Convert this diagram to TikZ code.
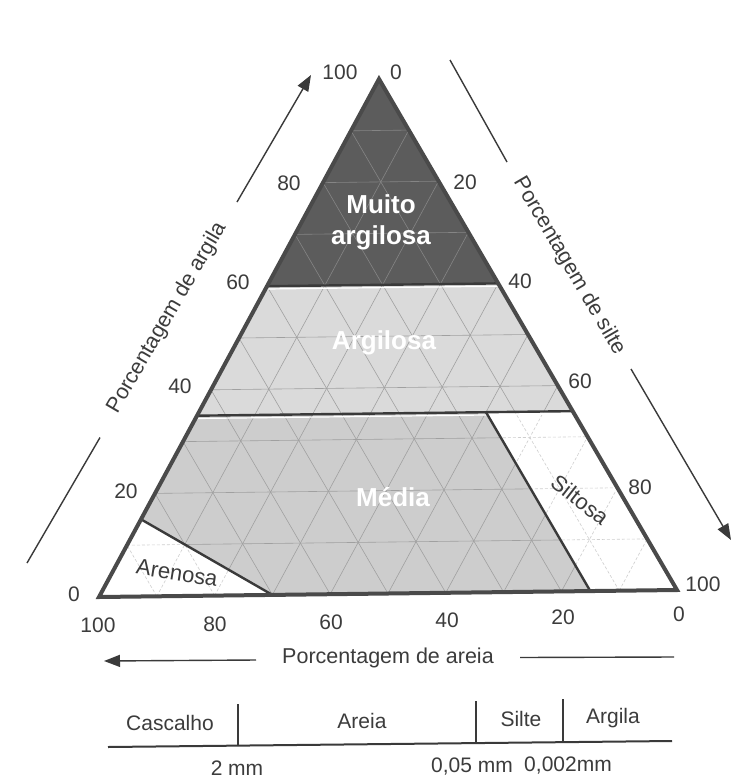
\documentclass[tikz,border=0pt]{standalone}
\usepackage{fontspec}
\setmainfont{Liberation Sans}
\usetikzlibrary{arrows.meta}
\definecolor{txt}{HTML}{3C3C3C}
\definecolor{ink}{HTML}{3A3A3A}
\definecolor{outl}{HTML}{4A4A4A}
\definecolor{darkz}{HTML}{5C5C5C}
\definecolor{argz}{HTML}{DADADA}
\definecolor{medz}{HTML}{CDCDCD}
\definecolor{gridd}{HTML}{858585}
\definecolor{gridl}{HTML}{A0A0A0}
\definecolor{gridw}{HTML}{CFCFCF}
\begin{document}
\begin{tikzpicture}[x=1pt,y=-1pt,
  num/.style={font=\fontsize{21}{24}\selectfont, text=txt, inner sep=0pt},
  axtitle/.style={font=\fontsize{21.5}{24}\selectfont, text=txt, inner sep=0pt},
  zone/.style={font=\fontsize{26}{31}\selectfont\bfseries, text=white, inner sep=0pt, align=center},
  zonew/.style={font=\fontsize{22}{24}\selectfont, text=txt, inner sep=0pt},
  axarrow/.style={draw=ink, line width=1.4pt, -{Triangle[length=16pt,width=12pt]}},
  axline/.style={draw=ink, line width=1.4pt},
  border/.style={draw=ink, line width=2.4pt},
  outer/.style={draw=outl, line width=4pt, line join=miter},
  gridline/.style={line width=0.6pt},
  sizeline/.style={draw=ink, line width=2pt}
]
\useasboundingbox (0,0) rectangle (742,782);
\fill[white] (0,0) rectangle (742,782);

% triangle vertices
\coordinate (A) at (379,79);
\coordinate (L) at (99,597);
\coordinate (R) at (677,590);

% class boundaries
\coordinate (m1) at (barycentric cs:A=0.6,L=0.4);
\coordinate (m2) at (barycentric cs:A=0.6,R=0.4);
\coordinate (g1) at (barycentric cs:A=0.35,L=0.65);
\coordinate (g2) at (barycentric cs:A=0.35,R=0.65);
\coordinate (s1) at (barycentric cs:A=0.35,R=0.5,L=0.15);
\coordinate (s2) at (barycentric cs:R=0.85,L=0.15);
\coordinate (e1) at (barycentric cs:R=0.3,L=0.7);
\coordinate (e2) at (barycentric cs:A=0.15,L=0.85);

% fills
\fill[darkz] (A) -- (m2) -- (m1) -- cycle;
\fill[argz] (m1) -- (m2) -- (g2) -- (g1) -- cycle;
\fill[medz] (g1) -- (s1) -- (s2) -- (e1) -- (e2) -- cycle;
\fill[white] (s1) -- (g2) -- (R) -- (s2) -- cycle;
\fill[white] (e2) -- (e1) -- (L) -- cycle;

% grid: dark zone
\begin{scope}
\clip (A) -- (m2) -- (m1) -- cycle;
\foreach \k in {1,...,9}{
  \pgfmathsetmacro\a{\k/10}
  \pgfmathsetmacro\m{1-\k/10}
  \draw[gridline, gridd] (barycentric cs:A=\a,L=\m) -- (barycentric cs:A=\a,R=\m);
  \draw[gridline, gridd] (barycentric cs:R=\a,L=\m) -- (barycentric cs:R=\a,A=\m);
  \draw[gridline, gridd] (barycentric cs:L=\a,R=\m) -- (barycentric cs:L=\a,A=\m);
}
\end{scope}
% grid: grey zones
\begin{scope}
\clip (m1) -- (m2) -- (g2) -- (s1) -- (s2) -- (e1) -- (e2) -- cycle;
\foreach \k in {1,...,9}{
  \pgfmathsetmacro\a{\k/10}
  \pgfmathsetmacro\m{1-\k/10}
  \draw[gridline, gridl] (barycentric cs:A=\a,L=\m) -- (barycentric cs:A=\a,R=\m);
  \draw[gridline, gridl] (barycentric cs:R=\a,L=\m) -- (barycentric cs:R=\a,A=\m);
  \draw[gridline, gridl] (barycentric cs:L=\a,R=\m) -- (barycentric cs:L=\a,A=\m);
}
\end{scope}
% grid: white zones
\begin{scope}
\clip (s1) -- (g2) -- (R) -- (s2) -- cycle (e2) -- (e1) -- (L) -- cycle;
\foreach \k in {1,...,9}{
  \pgfmathsetmacro\a{\k/10}
  \pgfmathsetmacro\m{1-\k/10}
  \draw[gridline, gridw, dash pattern=on 3pt off 2pt] (barycentric cs:A=\a,L=\m) -- (barycentric cs:A=\a,R=\m);
  \draw[gridline, gridw, dash pattern=on 3pt off 2pt] (barycentric cs:R=\a,L=\m) -- (barycentric cs:R=\a,A=\m);
  \draw[gridline, gridw, dash pattern=on 3pt off 2pt] (barycentric cs:L=\a,R=\m) -- (barycentric cs:L=\a,A=\m);
}
\end{scope}

% class boundary lines
\draw[white, line width=1.2pt] ([yshift=-2.8pt]m1) -- ([yshift=-2.8pt]m2);
\draw[white, line width=1.2pt] ([yshift=-2.8pt]g1) -- ([yshift=-2.8pt]g2);
\draw[border] (m1) -- (m2);
\draw[border] (g1) -- (g2);
\draw[border] (s1) -- (s2);
\draw[border] (e2) -- (e1);

% outer triangle
\draw[outer] (A) -- (R) -- (L) -- cycle;

% zone labels
\node[zone] (muito) at (381,222) {Muito\\argilosa};
\node[zone] (argilosa) at (384,343) {Argilosa};
\node[zone] (media) at (393,497) {Média};
\node[zonew, rotate=-9] (arenosa) at (177,573) {Arenosa};
\node[zonew, rotate=-38] (siltosa) at (580,500) {Siltosa};

% left scale (argila)
\node[num] (l100) at (340,72) {100};
\node[num] (l80) at (289,183) {80};
\node[num] (l60) at (238,282) {60};
\node[num] (l40) at (180,386) {40};
\node[num] (l20) at (126,491) {20};
\node[num] (l0) at (74,594) {0};
% right scale (silte)
\node[num] (r0) at (396,72) {0};
\node[num] (r20) at (465,182) {20};
\node[num] (r40) at (520,281) {40};
\node[num] (r60) at (580,381) {60};
\node[num] (r80) at (640,487) {80};
\node[num] (r100) at (703,584) {100};
% bottom scale (areia)
\node[num] (b100) at (98,625) {100};
\node[num] (b80) at (215,624) {80};
\node[num] (b60) at (331,622) {60};
\node[num] (b40) at (447,620) {40};
\node[num] (b20) at (563,617) {20};
\node[num] (b0) at (679,614) {0};

% axis titles and arrows
\node[axtitle, rotate=59.8] (targ) at (167,318) {Porcentagem de argila};
\coordinate (la0) at (27,563);
\coordinate (la1) at (100,437.5);
\coordinate (la2) at (237,202);
\coordinate (la3) at (311,75);
\draw[axline] (la0) -- (la1);
\draw[axarrow] (la2) -- (la3);

\node[axtitle, rotate=-59.7] (tsil) at (569,266) {Porcentagem de silte};
\coordinate (ra0) at (450,60);
\coordinate (ra1) at (507,162);
\coordinate (ra2) at (631,369);
\coordinate (ra3) at (731,540);
\draw[axline] (ra0) -- (ra1);
\draw[axarrow] (ra2) -- (ra3);

\node[axtitle] (tare) at (388,658) {Porcentagem de areia};
\coordinate (ba0) at (674,657);
\coordinate (ba1) at (520,657.5);
\coordinate (ba2) at (256,660);
\coordinate (ba3) at (104,661);
\draw[axline] (ba0) -- (ba1);
\draw[axarrow] (ba2) -- (ba3);

% grain-size scale
\coordinate (gs0) at (108,747);
\coordinate (gs1) at (672,741);
\draw[sizeline] (gs0) -- (gs1);
\coordinate (t1a) at (238,704);
\coordinate (t1b) at (238,745.6);
\coordinate (t2a) at (476,701);
\coordinate (t2b) at (476,743.1);
\coordinate (t3a) at (563,699);
\coordinate (t3b) at (563,742.2);
\draw[sizeline] (t1a) -- (t1b);
\draw[sizeline] (t2a) -- (t2b);
\draw[sizeline] (t3a) -- (t3b);
\node[num] (cas) at (170,723) {Cascalho};
\node[num] (are) at (362,721) {Areia};
\node[num] (sil) at (521,719) {Silte};
\node[num] (arg) at (613,718) {Argila};
\node[num] (mm2) at (237,768) {2 mm};
\node[num] (mm05) at (472,767) {0,05 mm};
\node[num] (mm002) at (568,766) {0,002mm};
\end{tikzpicture}
\end{document}
